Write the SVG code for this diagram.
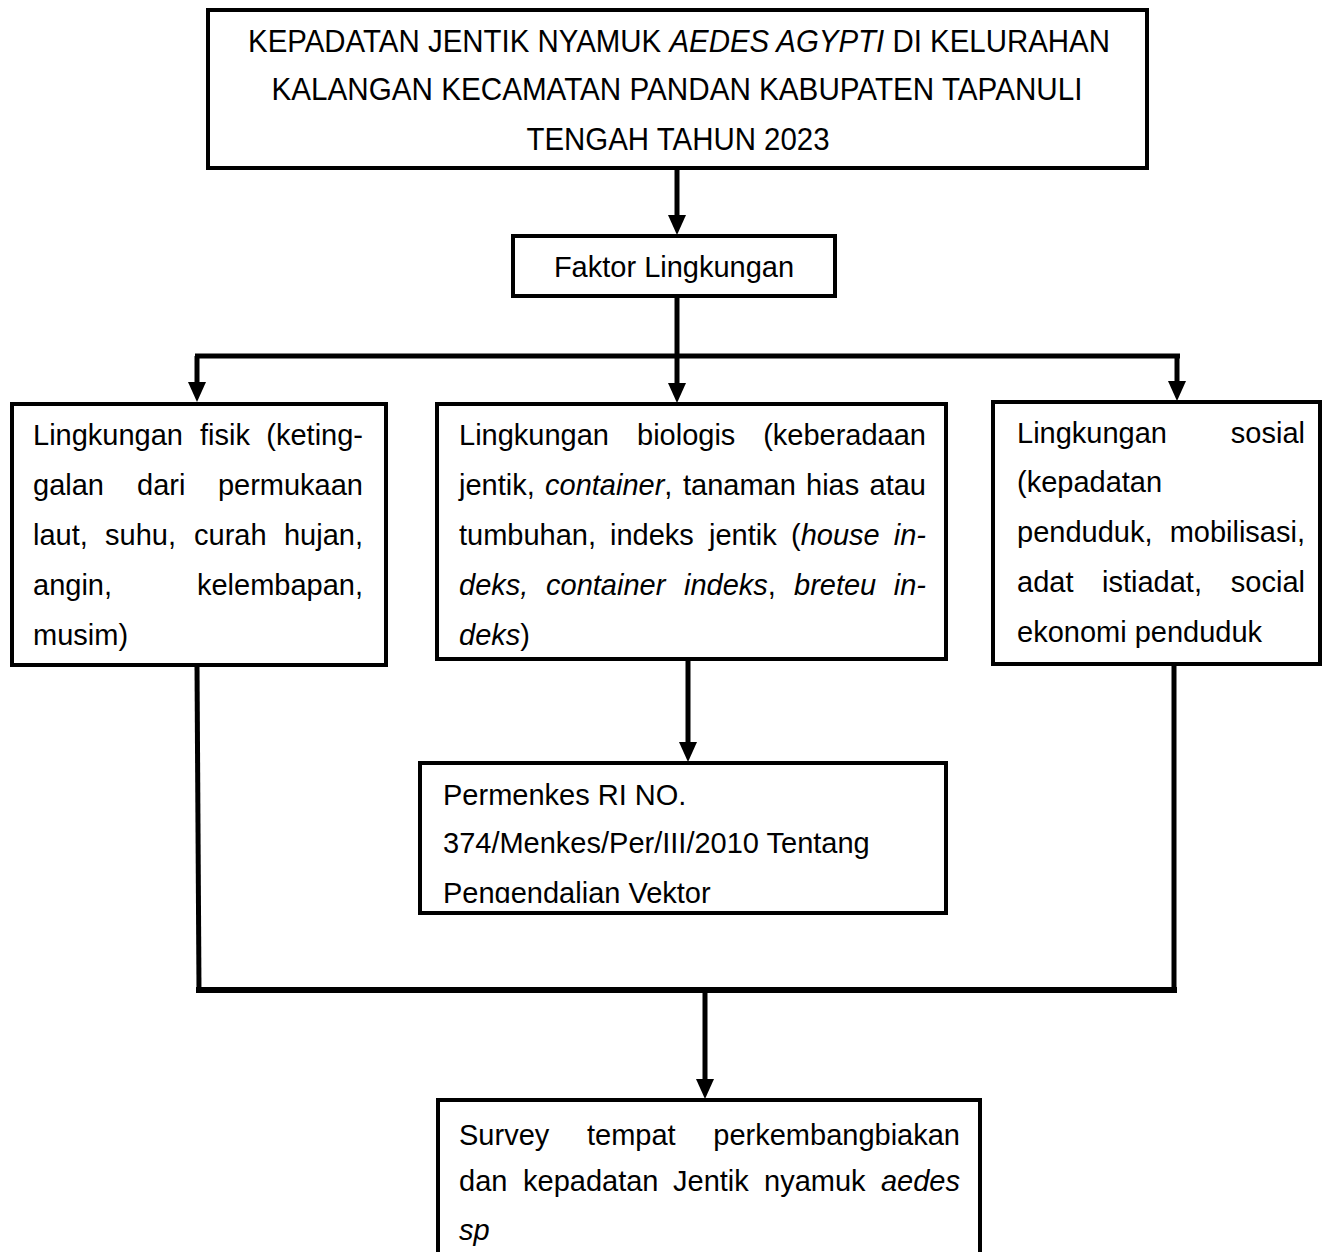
<svg xmlns="http://www.w3.org/2000/svg" width="1331" height="1252" viewBox="0 0 1331 1252">
<style>
.box{fill:#fff;stroke:#000;stroke-width:4}
.t{font-family:"Liberation Sans",Arial,sans-serif;font-size:29px;fill:#000}
.tt{font-family:"Liberation Sans",Arial,sans-serif;font-size:31px;fill:#000;text-anchor:middle}
.e{text-anchor:end}
.m{text-anchor:middle}
.i{font-style:italic}
.c{fill:none;stroke:#000;stroke-width:5}
</style>
<defs>
<marker id="ah" markerUnits="userSpaceOnUse" markerWidth="20" markerHeight="18" viewBox="0 0 20 18" refX="1" refY="9" orient="auto"><path d="M0,0 L20,9 L0,18 z" fill="#000"/></marker>
<clipPath id="clip4"><rect x="420" y="763" width="526" height="140"/></clipPath>
</defs>
<rect width="1331" height="1252" fill="#fff"/>
<g id="connectors">
<line class="c" x1="677" y1="168" x2="677" y2="216" marker-end="url(#ah)"/>
<line class="c" x1="677" y1="296" x2="677" y2="356"/>
<line class="c" x1="195" y1="356" x2="1180" y2="356"/>
<line class="c" x1="197" y1="356" x2="197" y2="383" marker-end="url(#ah)"/>
<line class="c" x1="677" y1="356" x2="677" y2="384" marker-end="url(#ah)"/>
<line class="c" x1="1177" y1="356" x2="1177" y2="382" marker-end="url(#ah)"/>
<line class="c" x1="688" y1="659" x2="688" y2="743" marker-end="url(#ah)"/>
<line class="c" x1="197" y1="665" x2="199" y2="990"/>
<line class="c" x1="1174" y1="664" x2="1174" y2="990"/>
<line class="c" x1="196" y1="990" x2="1177" y2="990" style="stroke-width:6"/>
<line class="c" x1="705" y1="990" x2="705" y2="1080" marker-end="url(#ah)"/>
</g>
<g id="title">
<rect class="box" x="208" y="10" width="939" height="158"/>
<text class="tt" x="679" y="52" textLength="862" lengthAdjust="spacingAndGlyphs">KEPADATAN JENTIK NYAMUK <tspan class="i">AEDES AGYPTI</tspan> DI KELURAHAN</text>
<text class="tt" x="677" y="100" textLength="811" lengthAdjust="spacingAndGlyphs">KALANGAN KECAMATAN PANDAN KABUPATEN TAPANULI</text>
<text class="tt" x="678" y="150" textLength="303" lengthAdjust="spacingAndGlyphs">TENGAH TAHUN 2023</text>
</g>
<g id="faktor">
<rect class="box" x="513" y="236" width="322" height="60"/>
<text class="t m" x="674" y="277">Faktor Lingkungan</text>
</g>
<g id="fisik">
<rect class="box" x="12" y="404" width="374" height="261"/>
<text class="t" x="33" y="445">Lingkungan</text><text class="t" x="200" y="445">fisik</text><text class="t e" x="363" y="445">(keting-</text>
<text class="t" x="33" y="495">galan</text><text class="t" x="137" y="495">dari</text><text class="t e" x="363" y="495">permukaan</text>
<text class="t" x="33" y="545">laut,</text><text class="t" x="105" y="545">suhu,</text><text class="t" x="194" y="545">curah</text><text class="t e" x="363" y="545">hujan,</text>
<text class="t" x="33" y="595">angin,</text><text class="t e" x="363" y="595">kelembapan,</text>
<text class="t" x="33" y="645">musim)</text>
</g>
<g id="biologis">
<rect class="box" x="437" y="404" width="509" height="255"/>
<text class="t" x="459" y="445">Lingkungan</text><text class="t" x="637" y="445">biologis</text><text class="t e" x="926" y="445">(keberadaan</text>
<text class="t" x="459" y="495">jentik,</text><text class="t" x="545" y="495"><tspan class="i">container</tspan>,</text><text class="t" x="683" y="495">tanaman</text><text class="t" x="806" y="495">hias</text><text class="t e" x="926" y="495">atau</text>
<text class="t" x="459" y="545">tumbuhan,</text><text class="t" x="610" y="545">indeks</text><text class="t" x="709" y="545">jentik</text><text class="t" x="791" y="545">(<tspan class="i">house</tspan></text><text class="t e i" x="926" y="545">in-</text>
<text class="t i" x="459" y="595">deks,</text><text class="t i" x="546" y="595">container</text><text class="t" x="684" y="595"><tspan class="i">indeks</tspan>,</text><text class="t i" x="794" y="595">breteu</text><text class="t e i" x="926" y="595">in-</text>
<text class="t" x="459" y="645"><tspan class="i">deks</tspan>)</text>
</g>
<g id="sosial">
<rect class="box" x="993" y="402" width="327" height="262"/>
<text class="t" x="1017" y="443">Lingkungan</text><text class="t e" x="1305" y="443">sosial</text>
<text class="t" x="1017" y="492">(kepadatan</text>
<text class="t" x="1017" y="542">penduduk,</text><text class="t e" x="1305" y="542">mobilisasi,</text>
<text class="t" x="1017" y="592">adat</text><text class="t" x="1102" y="592">istiadat,</text><text class="t e" x="1305" y="592">social</text>
<text class="t" x="1017" y="642">ekonomi penduduk</text>
</g>
<g id="permenkes">
<rect class="box" x="420" y="763" width="526" height="150"/>
<g clip-path="url(#clip4)">
<text class="t" x="443" y="805">Permenkes RI NO.</text>
<text class="t" x="443" y="853">374/Menkes/Per/III/2010 Tentang</text>
<text class="t" x="443" y="903">Pengendalian Vektor</text>
</g>
</g>
<g id="survey">
<rect class="box" x="438" y="1100" width="542" height="170"/>
<text class="t" x="459" y="1145">Survey</text><text class="t" x="587" y="1145">tempat</text><text class="t e" x="960" y="1145">perkembangbiakan</text>
<text class="t" x="459" y="1191">dan</text><text class="t" x="523" y="1191">kepadatan</text><text class="t" x="673" y="1191">Jentik</text><text class="t" x="764" y="1191">nyamuk</text><text class="t e i" x="960" y="1191">aedes</text>
<text class="t i" x="459" y="1240">sp</text>
</g>
</svg>
